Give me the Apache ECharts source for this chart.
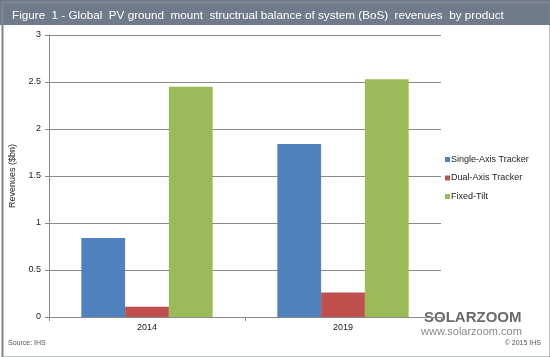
<!DOCTYPE html>
<html><head><meta charset="utf-8">
<script src="https://cdn.jsdelivr.net/npm/echarts@6/dist/echarts.min.js"></script>
<style>html,body{margin:0;padding:0;background:#fff}#c{width:550px;height:357px}</style>
</head><body><div id="c"></div>
<script>
const categories = ['2014', '2019'];
const singleAxis = [0.84, 1.84];
const dualAxis = [0.11, 0.26];
const fixedTilt = [2.45, 2.53];
const yTicks = [0, 0.5, 1, 1.5, 2, 2.5, 3];

const chart = echarts.init(document.getElementById('c'), null, {renderer: 'canvas'});
const F = 'Liberation Sans, Arial, sans-serif';
chart.setOption({
  animation: false,
  backgroundColor: '#fff',
  textStyle: {fontFamily: F},
  title: {
    text: 'Figure  1 - Global  PV ground  mount  structrual balance of system (BoS)  revenues  by product',
    left: 7, top: 5,
    textStyle: {color: '#fff', fontSize: 11.7, fontWeight: 'normal', fontFamily: F}
  },
  legend: {
    orient: 'vertical', left: 440, top: 150, itemGap: 9.5,
    itemWidth: 5, itemHeight: 5, icon: 'rect',
    textStyle: {fontSize: 9, color: '#222', fontFamily: F, padding: [0, 0, 0, -4]}
  },
  grid: {left: 49, right: 109, top: 35, bottom: 40, containLabel: false},
  xAxis: {
    type: 'category', data: categories,
    axisLine: {lineStyle: {color: '#888', width: 1}},
    axisTick: {show: true, length: 4, lineStyle: {color: '#888'}},
    axisLabel: {fontSize: 9, color: '#222', margin: 6, fontFamily: F}
  },
  yAxis: {
    type: 'value', min: 0, max: 3, interval: 0.5,
    name: 'Revenues ($bn)', nameLocation: 'middle', nameGap: 32, nameRotate: 90,
    nameTextStyle: {fontSize: 9, color: '#222', fontFamily: F},
    axisLine: {show: true, lineStyle: {color: '#888'}},
    axisTick: {show: true, length: 4, lineStyle: {color: '#888'}},
    axisLabel: {fontSize: 9, color: '#222', margin: 8, fontFamily: F,
      formatter: v => yTicks.includes(v) ? String(v) : ''},
    splitLine: {lineStyle: {color: '#888', width: 1}}
  },
  series: [
    {name: 'Single-Axis Tracker', type: 'bar', data: singleAxis, itemStyle: {color: '#4f81bd'}, barGap: '0%', barCategoryGap: '33%'},
    {name: 'Dual-Axis Tracker', type: 'bar', data: dualAxis, itemStyle: {color: '#c0504d'}},
    {name: 'Fixed-Tilt', type: 'bar', data: fixedTilt, itemStyle: {color: '#9bbb59'}}
  ],
  graphic: [
    {type: 'rect', left: 0, top: 0, shape: {width: 550, height: 25}, style: {fill: '#6f7b8b'}, z: -1},
    {type: 'rect', left: 0, top: 0, shape: {x: 1, y: 1, width: 548, height: 355}, style: {fill: 'none', stroke: '#7f868f', lineWidth: 2}, z: 10},
    {type: 'text', left: 8, top: 340, style: {text: 'Source: IHS', fontSize: 7, fill: '#555', fontFamily: F}},
    {type: 'text', right: 9, top: 340, style: {text: '© 2015 IHS', fontSize: 7, fill: '#555', fontFamily: F}},
    {type: 'text', left: 424, top: 310, style: {text: 'SOLARZOOM', fontSize: 15, fontWeight: 'bold', fill: '#6a6a6a', fontFamily: F}},
    {type: 'text', left: 421, top: 326, style: {text: 'www.solarzoom.com', fontSize: 11, fill: '#8a8a8a', fontFamily: F}}
  ]
});
</script></body></html>
